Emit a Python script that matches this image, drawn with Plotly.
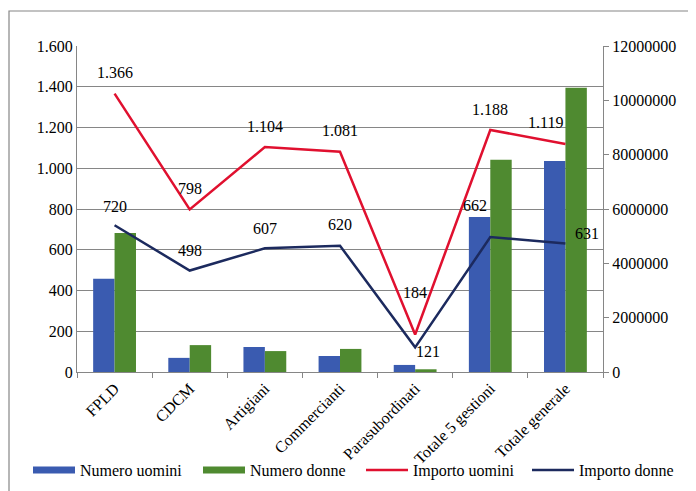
import plotly.graph_objects as go

categories = ["FPLD", "CDCM", "Artigiani", "Commercianti", "Parasubordinati",
              "Totale 5 gestioni", "Totale generale"]
numero_uomini = [3430000, 520000, 920000, 590000, 260000, 5710000, 7770000]
numero_donne = [5120000, 990000, 770000, 850000, 100000, 7810000, 10460000]
importo_uomini = [1366, 798, 1104, 1081, 184, 1188, 1119]
importo_donne = [720, 498, 607, 620, 121, 662, 631]

left_ticks = [0, 200, 400, 600, 800, 1000, 1200, 1400, 1600]
right_ticks = [0, 2000000, 4000000, 6000000, 8000000, 10000000, 12000000]

BLUE = "#3A5BB0"
GREEN = "#4F8A30"
RED = "#E0102F"
NAVY = "#1C2A5E"
GRAY = "#868686"
FONT = "Liberation Serif, Times New Roman, DejaVu Serif, serif"
F = dict(family=FONT, size=16, color="black")

W, H = 696, 491
OFF = 8  # page body margin offset
# plot-area geometry in screen pixels
SL, SR, ST, SB = 77, 603, 46, 372
PL, PR, PT, PB = SL - OFF, SR - OFF, ST - OFF, SB - OFF
PW, PH = PR - PL, PB - PT

def px_x(p):
    return (p - OFF - PL) / PW

def px_y(p):
    return (PB - (p - OFF)) / PH

def it_fmt(v):
    return f"{v:,}".replace(",", ".")

fig = go.Figure()
fig.add_trace(go.Bar(x=categories, y=numero_uomini, name="Numero uomini",
                     marker=dict(color=BLUE, line=dict(width=0)), yaxis="y",
                     showlegend=False))
fig.add_trace(go.Bar(x=categories, y=numero_donne, name="Numero donne",
                     marker=dict(color=GREEN, line=dict(width=0)), yaxis="y",
                     showlegend=False))
fig.add_trace(go.Scatter(x=categories, y=importo_uomini, name="Importo uomini",
                         mode="lines", line=dict(color=RED, width=2.5),
                         yaxis="y2", showlegend=False))
fig.add_trace(go.Scatter(x=categories, y=importo_donne, name="Importo donne",
                         mode="lines", line=dict(color=NAVY, width=2.5),
                         yaxis="y2", showlegend=False))

# legend entries, each in its own legend box so they sit on one row
legend_items = [("Numero uomini", BLUE, 7, "legend", 28),
                ("Numero donne", GREEN, 7, "legend2", 198),
                ("Importo uomini", RED, 2.5, "legend3", 361),
                ("Importo donne", NAVY, 2.5, "legend4", 527)]
legend_layout = {}
for name, color, w, lg, xpx in legend_items:
    fig.add_trace(go.Scatter(x=[None], y=[None], name=name, mode="lines",
                             line=dict(color=color, width=w), yaxis="y2",
                             legend=lg, showlegend=True))
    legend_layout[lg] = dict(orientation="h", x=px_x(xpx), xanchor="left",
                             y=px_y(470), yanchor="middle", itemwidth=42,
                             font=F, bgcolor="rgba(0,0,0,0)")

# data labels
u_shift = [(0, 21), (0, 21), (0, 21), (0, 21), (0, 42), (0, 20), (-20, 22)]
d_shift = [(0, 19), (0, 20), (0, 20), (0, 21), (13, -4), (-15, 32), (22, 10)]
for cat, v, (dx, dy) in zip(categories, importo_uomini, u_shift):
    fig.add_annotation(x=cat, y=v, yref="y2", text=it_fmt(v), showarrow=False,
                       xshift=dx, yshift=dy, font=F)
for cat, v, (dx, dy) in zip(categories, importo_donne, d_shift):
    fig.add_annotation(x=cat, y=v, yref="y2", text=it_fmt(v), showarrow=False,
                       xshift=dx, yshift=dy, font=F)

# outer chart border
fig.add_shape(type="rect", xref="paper", yref="paper",
              x0=px_x(9), x1=px_x(720), y0=px_y(540), y1=px_y(11),
              line=dict(color=GRAY, width=1.2), fillcolor="rgba(0,0,0,0)", layer="below")

fig.update_layout(
    width=W, height=H,
    margin=dict(l=PL, r=W - PR, t=PT, b=H - PB, autoexpand=False),
    paper_bgcolor="white", plot_bgcolor="white",
    separators=",.",
    font=F,
    barmode="group", bargap=0.43, bargroupgap=0,
    xaxis=dict(showline=True, linecolor=GRAY, linewidth=1, ticks="outside",
               tickson="boundaries", ticklen=5, tickcolor=GRAY, tickangle=-45,
               showgrid=False, tickfont=F, automargin=False),
    yaxis=dict(side="right", range=[0, 12000000], tickvals=right_ticks,
               tickformat="d", showgrid=False, showline=True, linecolor=GRAY,
               ticks="outside", ticklen=5, tickcolor=GRAY, zeroline=False,
               tickfont=F, automargin=False),
    yaxis2=dict(side="left", overlaying="y", range=[0, 1600], tickvals=left_ticks,
                tickformat=",d", showgrid=True, gridcolor=GRAY, gridwidth=1,
                showline=True, linecolor=GRAY, zeroline=False, ticks="",
                tickfont=F, automargin=False),
    **legend_layout,
)

fig.write_html("out.html")
